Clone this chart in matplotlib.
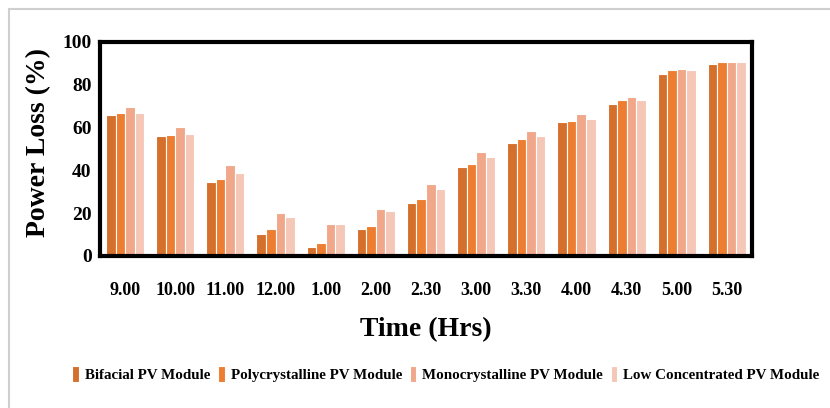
import numpy as np
import matplotlib.pyplot as plt
from matplotlib.patches import Rectangle

# -----------------------------
# Data
# -----------------------------
times = ["9.00", "10.00", "11.00", "12.00", "1.00", "2.00", "2.30",
         "3.00", "3.30", "4.00", "4.30", "5.00", "5.30"]

bifacial = [66, 56, 34.5, 10.2, 4, 12.5, 25, 41.5, 53, 62.5, 71, 85, 89.8]
polycrystalline = [66.7, 56.5, 36, 12.5, 6.3, 14.2, 26.7, 43, 54.7, 63.3, 72.7, 86.7, 90.6]
monocrystalline = [69.8, 60.3, 42.3, 20.3, 14.8, 22, 33.7, 48.5, 58.6, 66.5, 74.3, 87.5, 90.6]
low_concentrated = [66.7, 57, 39, 18, 14.8, 21.2, 31.3, 46.2, 56.3, 64.2, 72.8, 86.7, 90.6]

series = [
    ("Bifacial PV Module", bifacial, "#D5702C"),
    ("Polycrystalline PV Module", polycrystalline, "#ED7D31"),
    ("Monocrystalline PV Module", monocrystalline, "#F1A88A"),
    ("Low Concentrated PV Module", low_concentrated, "#F5C7B7"),
]

# -----------------------------
# Figure
# -----------------------------
plt.rcParams['font.family'] = ['Liberation Serif', 'DejaVu Serif']
plt.rcParams['font.weight'] = 'bold'

W, H = 830, 408
fig = plt.figure(figsize=(W / 100, H / 100), dpi=100)
ax = fig.add_axes([100 / W, 1 - 256 / H, 652 / W, 214 / H])

# light grey chart-area border (runs off the right/bottom edge)
fig.patches.append(Rectangle((9 / W, -0.05), 1.0, 1.05 - 9 / H, transform=fig.transFigure,
                             fill=False, edgecolor="#CFCFCF", linewidth=1.5))

x = np.arange(len(times))
width = 0.19
for i, (name, vals, col) in enumerate(series):
    ax.bar(x + (i - 1.5) * width, vals, width, color=col, edgecolor="white",
           linewidth=0.8, label=name)

ax.set_xlim(-0.5, len(times) - 0.5)
ax.set_ylim(0, 100)
ax.set_yticks(np.arange(0, 101, 20))
ax.set_xticks(x)
ax.set_xticklabels(times)

for s in ax.spines.values():
    s.set_linewidth(3)
    s.set_color("black")

ax.tick_params(axis="x", length=0, pad=19, labelsize=13)
ax.tick_params(axis="y", length=0, pad=6, labelsize=14)
for lbl in ax.get_xticklabels() + ax.get_yticklabels():
    lbl.set_fontweight("bold")

ax.set_ylabel("Power Loss (%)", fontsize=20, fontweight="bold")
ax.yaxis.set_label_coords(-0.075, 0.53)
ax.set_xlabel("Time (Hrs)", fontsize=20, fontweight="bold", labelpad=13)

fig.legend(loc="center", bbox_to_anchor=(446 / W, 1 - 374 / H), ncol=4,
           frameon=False, handlelength=0.45, handleheight=1.3, handletextpad=0.4,
           columnspacing=0.5, prop={"size": 10.8, "weight": "bold"})

fig.savefig("out.png", dpi=100)
